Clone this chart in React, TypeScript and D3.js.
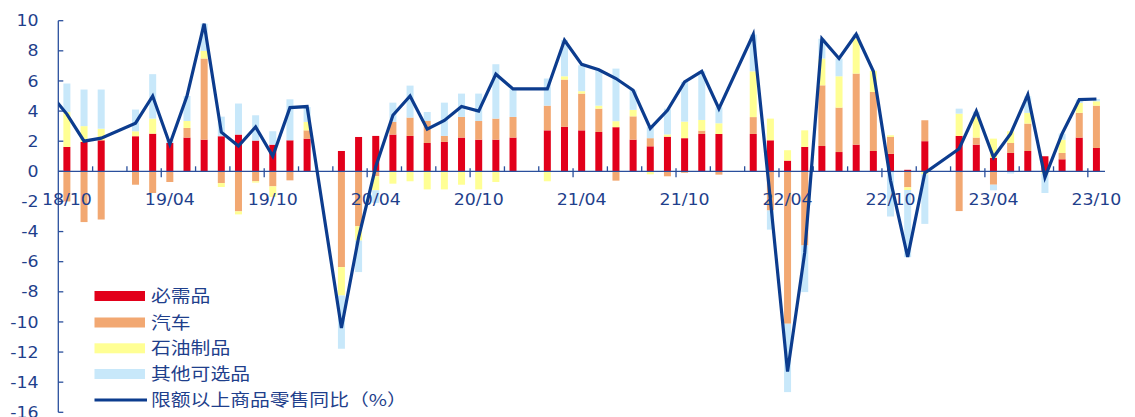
import React from "react";
import * as d3 from "d3";

// month categories (18/09 is only the lead-in of the line, outside the plot on the left)
const months = [
  "18/09", "18/10", "18/11", "18/12",
  "19/01", "19/02", "19/03", "19/04", "19/05", "19/06", "19/07", "19/08", "19/09", "19/10", "19/11", "19/12",
  "20/01", "20/02", "20/03", "20/04", "20/05", "20/06", "20/07", "20/08", "20/09", "20/10", "20/11", "20/12",
  "21/01", "21/02", "21/03", "21/04", "21/05", "21/06", "21/07", "21/08", "21/09", "21/10", "21/11", "21/12",
  "22/01", "22/02", "22/03", "22/04", "22/05", "22/06", "22/07", "22/08", "22/09", "22/10", "22/11", "22/12",
  "23/01", "23/02", "23/03", "23/04", "23/05", "23/06", "23/07", "23/08", "23/09", "23/10",
];

const necessities = [
  null, 1.62, 1.95, 2.06,
  null, 2.33, 2.5, 1.88, 2.24, 2.1, 2.33, 2.44, 2.04, 1.77, 2.06, 2.17,
  null, 1.35, 2.28, 2.35, 2.44, 2.35, 1.88, 1.95, 2.24, 2.1, 2.1, 2.24,
  null, 2.72, 2.95, 2.72, 2.61, 2.93, 2.1, 1.66, 2.3, 2.2, 2.48, 2.48,
  null, 2.48, 2.06, 0.71, 1.62, 1.68, 1.28, 1.77, 1.35, 1.16, 0.1, 2.0,
  null, 2.35, 1.77, 0.89, 1.22, 1.35, 1.0, 0.8, 2.24, 1.55,
];

const autos = [
  null, -2.0, -3.37, -3.2,
  null, -0.89, -1.44, -0.71, 0.64, 5.39, -0.78, -2.66, -0.66, -1.0, -0.6, 0.55,
  null, -6.36, -3.65, -0.33, 0.84, 1.22, 1.46, 0.4, 1.37, 1.24, 1.4, 1.37,
  null, 1.64, 3.14, 2.44, 1.55, -0.62, 1.55, 0.54, -0.33, -0.1, 0.22, -0.22,
  null, 1.12, -2.6, -10.12, -4.92, 4.03, 2.95, 4.72, 3.92, 1.12, -1.06, 1.39,
  null, -2.64, 0.47, -0.89, 0.66, 1.82, 0, 0.42, 1.64, 2.81,
];

const petroleum = [
  null, 2.32, 1.05, 0.77,
  null, 0.33, 1.0, 0, 0.46, 0.51, -0.26, -0.2, -0.09, -0.7, 0, 0.56,
  null, -1.88, -0.95, -0.93, -0.82, -0.66, -1.2, -1.2, -0.89, -1.2, -0.71, 0,
  null, -0.66, 0.22, 0.16, 0.2, 0.4, 0.43, -0.2, 0.15, 1.1, 0.71, 0.71,
  null, 3.04, 1.44, 0.69, 1.1, 1.78, 2.08, 2.31, 1.4, 0.11, -0.18, -0.2,
  null, 1.48, 1.37, 1.28, 0.78, 0.71, -0.15, 0.88, 0.66, 0.29,
];

const otherDiscretionary = [
  null, 1.89, 2.43, 2.6,
  null, 1.44, 2.95, 0.2, 1.66, 1.8, 1.3, 2.06, 1.68, 0.89, 2.72, 0.99,
  null, -3.54, -2.09, -0.84, 1.28, 2.12, 0.6, 2.21, 1.55, 1.82, 3.61, 1.84,
  null, 1.8, 2.4, 1.72, 2.35, 3.49, 1.3, 0.75, 1.71, 2.64, 3.23, 1.06,
  null, 2.44, -1.27, -4.54, -3.1, 1.31, 1.18, 0.3, 0, -3.0, -4.46, -3.29,
  null, 0.33, 0.35, -0.37, -0.15, 1.1, -1.29, 0.4, 0.22, 0.15,
];

const retailYoY = [
  5.2, 3.8, 2.0, 2.2,
  null, 3.2, 5.0, 1.8, 5.0, 9.8, 2.6, 1.68, 2.95, 1.0, 4.23, 4.3,
  null, -10.4, -4.4, 0.3, 3.72, 5.0, 2.8, 3.38, 4.3, 4.0, 6.45, 5.47,
  null, 5.47, 8.7, 7.1, 6.74, 6.16, 5.38, 2.85, 4.05, 5.94, 6.64, 4.16,
  null, 9.08, -1.9, -13.3, -5.4, 8.8, 7.49, 9.1, 6.64, -0.6, -5.69, -0.1,
  null, 1.5, 3.99, 0.93, 2.5, 5.08, -0.4, 2.5, 4.76, 4.8,
];

const xTickLabels = ["18/10", "19/04", "19/10", "20/04", "20/10", "21/04", "21/10", "22/04", "22/10", "23/04", "23/10"];
const yTicks = [10, 8, 6, 4, 2, 0, -2, -4, -6, -8, -10, -12, -14, -16];

const seriesNames = ["必需品", "汽车", "石油制品", "其他可选品"];
const lineName = "限额以上商品零售同比（%）";
const seriesColors = ["#E2001A", "#F2A872", "#FFFF94", "#C8E8FA"];
const lineColor = "#0C3C8E";
const textColor = "#1F3F8C";
const axisColor = "#2A4F9C";

const W = 1135;
const H = 417;
const plotLeft = 58.3;
const plotRight = 1105;

export default function App() {
  const x = d3.scaleLinear().domain([0.5, months.length - 0.5]).range([plotLeft, plotRight]);
  const y = d3.scaleLinear().domain([-16, 10]).range([412.3, 20.7]);
  const keys = ["n", "a", "p", "o"];

  const rows = months
    .map((m, i) => ({
      i,
      m,
      n: necessities[i],
      a: autos[i],
      p: petroleum[i],
      o: otherDiscretionary[i],
    }))
    .filter((r) => r.n !== null);

  const stack = d3
    .stack<any>()
    .keys(keys)
    .value((d: any, k: string) => d[k] ?? 0)
    .offset(d3.stackOffsetDiverging);
  const stacked = stack(rows);

  const barW = 7;

  const linePts = months
    .map((m, i) => ({ i, v: retailYoY[i] }))
    .filter((d) => d.v !== null) as { i: number; v: number }[];
  const lineGen = d3
    .line<{ i: number; v: number }>()
    .x((d) => x(d.i))
    .y((d) => y(d.v));

  const y0 = y(0);
  const tickIdx: number[] = [];
  for (let k = 2.5; k < months.length - 0.5; k += 2) tickIdx.push(k);
  const majorStart = months.indexOf("19/04") - 0.5;

  const sx = 1.12;
  const legendRows = [296, 322.5, 348.3, 374];

  return (
    <svg
      width={W}
      height={H}
      style={{ position: "absolute", left: 0, top: 0, background: "#fff" }}
      fontFamily="'DejaVu Sans', Verdana, sans-serif"
    >
      <defs>
        <clipPath id="plotClip">
          <rect x={plotLeft} y={0} width={plotRight - plotLeft + 10} height={H} />
        </clipPath>
      </defs>

      {/* bars */}
      {stacked.map((layer, li) => (
        <g key={li} fill={seriesColors[li]}>
          {layer.map((seg: any, j: number) => {
            const a = seg[0];
            const b = seg[1];
            if (a === b) return null;
            const top = y(Math.max(a, b));
            const bot = y(Math.min(a, b));
            return (
              <rect
                key={j}
                x={x(seg.data.i) - barW / 2}
                y={top}
                width={barW}
                height={bot - top}
              />
            );
          })}
        </g>
      ))}

      {/* y axis */}
      <line x1={plotLeft} x2={plotLeft} y1={y(10)} y2={y(-16)} stroke={axisColor} strokeWidth={1.3} />
      {yTicks.map((t) => (
        <g key={t}>
          <line x1={plotLeft} x2={plotLeft + 5} y1={y(t)} y2={y(t)} stroke={axisColor} strokeWidth={1.3} />
          <text
            transform={`translate(38.5, ${y(t) + 5.6}) scale(${sx},1)`}
            textAnchor="end"
            fontSize={15.5}
            fill={textColor}
          >
            {t}
          </text>
        </g>
      ))}

      {/* x axis */}
      <line x1={plotLeft} x2={plotRight} y1={y0} y2={y0} stroke={axisColor} strokeWidth={1.3} />
      {tickIdx.map((k) => {
        const major = Math.abs(((k - majorStart) % 6 + 6) % 6) < 0.01;
        return (
          <line
            key={k}
            x1={x(k)}
            x2={x(k)}
            y1={major ? y0 - 3 : y0 - 5}
            y2={major ? y0 + 6 : y0}
            stroke={axisColor}
            strokeWidth={1.3}
          />
        );
      })}
      {xTickLabels.map((lab) => (
        <text
          key={lab}
          transform={`translate(${x(months.indexOf(lab))}, 205) scale(${sx},1)`}
          textAnchor="middle"
          fontSize={15.5}
          fill={textColor}
        >
          {lab}
        </text>
      ))}

      {/* line */}
      <path
        d={lineGen(linePts) || ""}
        fill="none"
        stroke={lineColor}
        strokeWidth={3.2}
        strokeLinejoin="miter"
        clipPath="url(#plotClip)"
      />

      {/* legend */}
      {seriesNames.map((name, k) => (
        <g key={name}>
          <rect x={94.5} y={legendRows[k] - 5} width={50.5} height={10} fill={seriesColors[k]} />
          <text
            transform={`translate(151, ${legendRows[k] + 6}) scale(1.2,1)`}
            fontSize={16.5}
            fontFamily="'Noto Sans CJK SC', sans-serif"
            fill={textColor}
          >
            {name}
          </text>
        </g>
      ))}
      <line x1={94.5} x2={147} y1={400} y2={400} stroke={lineColor} strokeWidth={3.2} />
      <text
        transform={`translate(151, 406) scale(1.2,1)`}
        fontSize={16.5}
        fontFamily="'Noto Sans CJK SC', sans-serif"
        fill={textColor}
      >
        {lineName}
      </text>
    </svg>
  );
}
